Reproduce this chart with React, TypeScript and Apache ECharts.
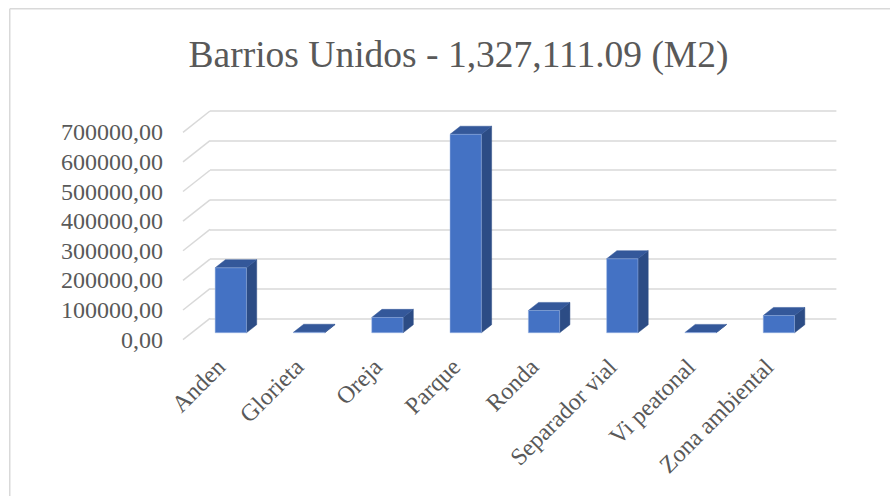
import React, { useEffect, useRef } from "react";
import * as echarts from "echarts";

const TITLE = "Barrios Unidos - 1,327,111.09 (M2)";
const categories = ["Anden", "Glorieta", "Oreja", "Parque", "Ronda", "Separador vial", "Vi peatonal", "Zona ambiental"];
const areaValues = [219350.2, 1520.4, 51780.5, 670120.3, 75230.1, 249890.6, 980.3, 58238.69];
const yTicks = [0, 100000, 200000, 300000, 400000, 500000, 600000, 700000];

const Y_MAX = 700000;
const Y_INT = 100000;
// depth vector (back wall -> front of floor)
const DX = -27;
const DY = 21.3;
const BACK_F = 0.3;
const FRONT_F = 0.68;

const FONT = "Liberation Serif";
const GRAY = "#595959";
const GRID_W = 626.4;
const GRID_H = 207.3;

export default function App() {
  const ref = useRef<HTMLDivElement>(null);
  useEffect(() => {
    if (!ref.current) return;
    const chart = echarts.init(ref.current, null, { renderer: "svg" });
    const fmt = (v: number) => v.toFixed(2).replace(".", ",");
    const catAxisHidden = (gridIndex: number) => ({
      type: "category",
      gridIndex,
      data: categories,
      axisLine: { show: false },
      axisTick: { show: false },
      axisLabel: { show: false },
      splitLine: { show: false },
    });
    const valAxisBase = (gridIndex: number) => ({
      type: "value",
      gridIndex,
      min: 0,
      max: Y_MAX,
      interval: Y_INT,
      axisLine: { show: false },
      axisTick: { show: false },
    });
    const option: any = {
      animation: false,
      backgroundColor: "#ffffff",
      title: {
        text: TITLE,
        left: 453.5,
        top: 30,
        textAlign: "center",
        textStyle: { fontFamily: FONT, fontSize: 37.5, fontWeight: "normal", color: GRAY },
      },
      grid: [
        { left: 210, top: 111, width: GRID_W, height: GRID_H },
        { left: 210 + DX, top: 111 + DY, width: GRID_W, height: GRID_H },
        { left: 182, top: 111 + DY * FRONT_F, width: GRID_W, height: GRID_H },
      ],
      xAxis: [
        catAxisHidden(0),
        catAxisHidden(1),
        {
          ...catAxisHidden(2),
          axisLabel: {
            show: true,
            rotate: 45,
            margin: 30,
            interval: 0,
            fontFamily: FONT,
            fontSize: 24,
            color: GRAY,
          },
        },
      ],
      yAxis: [
        {
          ...valAxisBase(0),
          axisLabel: { show: false },
          splitLine: { show: true, lineStyle: { color: "#d9d9d9", width: 1.5 } },
        },
        {
          ...valAxisBase(1),
          splitLine: { show: false },
          axisLabel: {
            show: true,
            margin: 20,
            fontFamily: FONT,
            fontSize: 24,
            color: GRAY,
            formatter: (v: number) => fmt(v),
          },
        },
        { ...valAxisBase(2), splitLine: { show: false }, axisLabel: { show: false } },
      ],
      graphic: [
        { type: "line", shape: { x1: 9.75, y1: 8.75, x2: 890, y2: 8.75 }, style: { stroke: "#d9d9d9", lineWidth: 1.5 } },
        { type: "line", shape: { x1: 9.75, y1: 8.75, x2: 9.75, y2: 496 }, style: { stroke: "#d9d9d9", lineWidth: 1.5 } },
      ],
      series: [
        {
          type: "custom",
          xAxisIndex: 0,
          yAxisIndex: 0,
          silent: true,
          data: yTicks.map((t) => [0, t]),
          renderItem: (params: any, api: any) => {
            const p = api.coord([0, api.value(1)]);
            const x0 = params.coordSys.x;
            return {
              type: "line",
              shape: { x1: x0, y1: p[1], x2: x0 + DX, y2: p[1] + DY },
              style: { stroke: "#d9d9d9", lineWidth: 1.5 },
            };
          },
        },
        {
          type: "custom",
          xAxisIndex: 0,
          yAxisIndex: 0,
          data: areaValues.map((v, i) => [i, v]),
          renderItem: (params: any, api: any) => {
            const i = api.value(0);
            const v = api.value(1);
            const base = api.coord([i, 0]);
            const top = api.coord([i, v]);
            const bw = api.size([1, 0])[0] * 0.4;
            const fx = DX * FRONT_F, fy = DY * FRONT_F;
            const bx = DX * BACK_F, by = DY * BACK_F;
            const L = base[0] - bw / 2;
            const R = base[0] + bw / 2;
            const T = top[1];
            const B = base[1];
            const edge = "rgba(160,185,230,0.6)";
            return {
              type: "group",
              children: [
                {
                  type: "polygon",
                  shape: { points: [[R + fx, T + fy], [R + bx, T + by], [R + bx, B + by], [R + fx, B + fy]] },
                  style: { fill: "#2c4c85", stroke: "#2c4c85", lineWidth: 0.5 },
                },
                {
                  type: "polygon",
                  shape: { points: [[L + fx, T + fy], [R + fx, T + fy], [R + bx, T + by], [L + bx, T + by]] },
                  style: { fill: "#34589a", stroke: "#34589a", lineWidth: 0.5 },
                },
                {
                  type: "rect",
                  shape: { x: L + fx, y: T + fy, width: bw, height: Math.max(0, B - T) },
                  style: { fill: "#4472c4", stroke: edge, lineWidth: 0.8 },
                },
              ],
            };
          },
        },
      ],
    };
    chart.setOption(option);
    return () => chart.dispose();
  }, []);
  return (
    <div
      ref={ref}
      style={{ position: "fixed", left: 0, top: 0, width: 890, height: 496, background: "#fff" }}
    />
  );
}
